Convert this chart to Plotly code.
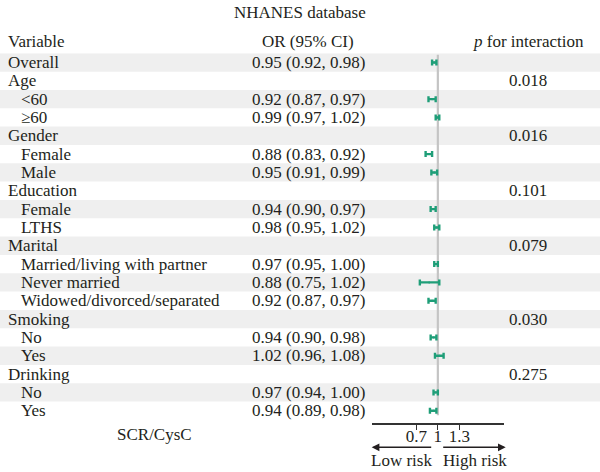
import plotly.graph_objects as go

# ---------------- data ----------------
variables = ["Overall", "Age", "<60", "≥60", "Gender", "Female", "Male",
             "Education", "Female", "LTHS", "Marital",
             "Married/living with partner", "Never married",
             "Widowed/divorced/separated", "Smoking", "No", "Yes",
             "Drinking", "No", "Yes"]
is_group = [True, True, False, False, True, False, False,
            True, False, False, True,
            False, False,
            False, True, False, False,
            True, False, False]
odds_ratio = [0.95, None, 0.92, 0.99, None, 0.88, 0.95,
              None, 0.94, 0.98, None,
              0.97, 0.88,
              0.92, None, 0.94, 1.02,
              None, 0.97, 0.94]
ci_lower = [0.92, None, 0.87, 0.97, None, 0.83, 0.91,
            None, 0.90, 0.95, None,
            0.95, 0.75,
            0.87, None, 0.90, 0.96,
            None, 0.94, 0.89]
ci_upper = [0.98, None, 0.97, 1.02, None, 0.92, 0.99,
            None, 0.97, 1.02, None,
            1.00, 1.02,
            0.97, None, 0.98, 1.08,
            None, 1.00, 0.98]
p_interaction = [None, "0.018", None, None, "0.016", None, None,
                 "0.101", None, None, "0.079",
                 None, None,
                 None, "0.030", None, None,
                 "0.275", None, None]
tick_vals = [0.7, 1, 1.3]
tick_text = ["0.7", "1", "1.3"]

# ---------------- layout helpers ----------------
W, H = 600, 472
def px(x):
    return x / W
def py(y):
    return 1 - y / H

FONT = "Liberation Serif"
TXT = "#231f20"
GREEN = "#1f9e78"
BAND = "#efefef"
FS = 17

n = len(variables)
rows = list(range(n))

fig = go.Figure()

# error-bar forest marks
xs, ys, ep, em = [], [], [], []
for i in rows:
    if odds_ratio[i] is not None:
        xs.append(odds_ratio[i])
        ys.append(i)
        ep.append(ci_upper[i] - odds_ratio[i])
        em.append(odds_ratio[i] - ci_lower[i])
fig.add_trace(go.Scatter(
    x=xs, y=ys, mode="markers",
    marker=dict(size=2, color=GREEN),
    error_x=dict(type="data", symmetric=False, array=ep, arrayminus=em,
                 color=GREEN, thickness=2.4, width=3),
    showlegend=False, hoverinfo="skip"))

shapes = []
# alternating bands
for i in rows:
    if i % 2 == 0:
        shapes.append(dict(type="rect", xref="paper", yref="y",
                           x0=0, x1=1, y0=i - 0.5, y1=i + 0.5,
                           fillcolor=BAND, line=dict(width=0), layer="below"))
# reference line at OR = 1
shapes.append(dict(type="line", xref="x", yref="y", x0=1, x1=1,
                   y0=-0.42, y1=n - 0.75,
                   line=dict(color="#c4c4c4", width=2.2), layer="below"))
fig.update_layout(shapes=shapes)

ann = []
def text(x, y, s, xanchor="left", yref="y", size=FS):
    ann.append(dict(x=x, y=y, xref="paper", yref=yref, text=s,
                    showarrow=False, xanchor=xanchor, yanchor="middle",
                    font=dict(family=FONT, size=size, color=TXT)))

for i in rows:
    text(px(6) if is_group[i] else px(19), i, variables[i])
    if odds_ratio[i] is not None:
        s = f"{odds_ratio[i]:.2f} ({ci_lower[i]:.2f}, {ci_upper[i]:.2f})"
        text(px(308), i, s, xanchor="center")
    if p_interaction[i] is not None:
        text(px(528), i, p_interaction[i], xanchor="center")

# headers
text(px(300), py(12), "NHANES database", xanchor="center", yref="paper")
text(px(6), py(42), "Variable", yref="paper")
text(px(308), py(42), "OR (95% CI)", xanchor="center", yref="paper")
text(px(528), py(42), "<i>p</i> for interaction", xanchor="center", yref="paper")
text(px(154), py(434), "SCR/CysC", xanchor="center", yref="paper")
text(px(401), py(460), "Low risk", xanchor="center", yref="paper")
text(px(475), py(460), "High risk", xanchor="center", yref="paper")

# direction arrows
for head, tail in [(371.7, 432.7), (505.7, 441.7)]:
    ann.append(dict(x=px(head), y=py(447.3), xref="paper", yref="paper",
                    ax=tail - head, ay=0, axref="pixel", ayref="pixel",
                    showarrow=True, arrowhead=2, arrowsize=1.1,
                    arrowwidth=1.4, arrowcolor=TXT, text=""))

fig.update_layout(annotations=ann)

row_px = 18.33
top_px, bot_px = 53.3, 423.3
fig.update_layout(
    width=W, height=H,
    margin=dict(l=0, r=0, t=0, b=0),
    paper_bgcolor="white", plot_bgcolor="rgba(0,0,0,0)",
    showlegend=False,
    xaxis=dict(domain=[px(371.7), px(504)], range=[0.081, 1.919],
               showgrid=False, zeroline=False, showline=True,
               linecolor="#333", linewidth=1.6,
               ticks="outside", ticklen=5, tickwidth=1.2, tickcolor="#333",
               ticklabelstandoff=-9,
               tickvals=tick_vals, ticktext=tick_text,
               tickfont=dict(family=FONT, size=FS, color=TXT)),
    yaxis=dict(domain=[py(bot_px), py(top_px)],
               range=[-0.5 + (bot_px - top_px) / row_px, -0.5],
               visible=False),
)

fig.write_html("out.html")
